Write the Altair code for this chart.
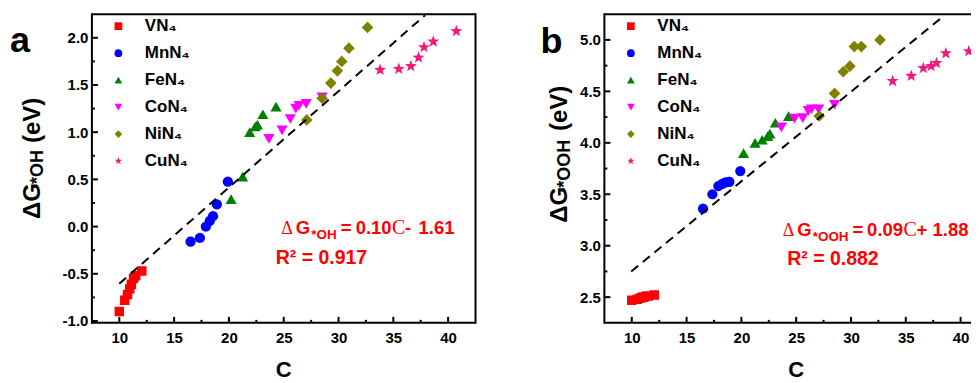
import altair as alt
import pandas as pd

# ---------------- data ----------------
series = ["VN₄", "MnN₄", "FeN₄", "CoN₄", "NiN₄", "CuN₄"]
colors = ["#FF0000", "#0000FF", "#008000", "#FF00FF", "#808000", "#F0197D"]
STAR = ("M0,-1L0.24,-0.33L0.951,-0.309L0.388,0.126L0.588,0.809L0,0.41"
        "L-0.588,0.809L-0.388,0.126L-0.951,-0.309L-0.24,-0.33Z")
shapes = ["square", "circle", "triangle-up", "triangle-down", "diamond", STAR]
sizes = [90, 105, 125, 125, 135, 160]

# descriptor C (x) for each catalyst family (same in both panels)
c_vn = [10.0, 10.5, 10.75, 10.95, 11.1, 11.3, 11.5, 12.05]
c_mn = [16.5, 17.35, 17.9, 18.25, 18.55, 18.9, 19.9]
c_fe = [20.2, 21.25, 21.9, 22.4, 22.6, 23.1, 24.3]
c_co = [23.65, 24.85, 25.6, 26.1, 26.4, 27.05, 28.5]
c_ni = [27.1, 28.5, 29.3, 29.9, 30.3, 30.95, 32.65]
c_cu = [33.8, 35.5, 36.6, 37.3, 37.8, 38.65, 40.75]

# panel a: dG*OH (eV)
oh_vn = [-0.90, -0.78, -0.72, -0.66, -0.61, -0.55, -0.52, -0.47]
oh_mn = [-0.16, -0.12, 0.0, 0.06, 0.11, 0.235, 0.475]
oh_fe = [0.29, 0.53, 1.0, 1.06, 1.08, 1.19, 1.27]
oh_co = [0.93, 1.02, 1.14, 1.25, 1.28, 1.30, 1.37]
oh_ni = [1.13, 1.36, 1.52, 1.65, 1.75, 1.89, 2.11]
oh_cu = [1.66, 1.67, 1.70, 1.79, 1.90, 1.96, 2.07]

# panel b: dG*OOH (eV)
ooh_vn = [2.47, 2.48, 2.49, 2.50, 2.50, 2.51, 2.51, 2.52]
ooh_mn = [3.36, 3.50, 3.58, 3.60, 3.615, 3.62, 3.725]
ooh_fe = [3.90, 4.00, 4.03, 4.065, 4.09, 4.195, 4.26]
ooh_co = [4.15, 4.235, 4.24, 4.31, 4.325, 4.325, 4.37]
ooh_ni = [4.26, 4.48, 4.69, 4.745, 4.935, 4.935, 5.0]
ooh_cu = [4.60, 4.65, 4.725, 4.745, 4.775, 4.87, 4.89]

# dashed fit lines (end points)
fit_oh_c = [10.0, 37.9]
fit_oh = [-0.605, 2.24]
fit_ooh_c = [9.95, 38.2]
fit_ooh = [2.75, 5.21]

# tick values
x_major = [10, 15, 20, 25, 30, 35, 40]
x_minor = [12.5, 17.5, 22.5, 27.5, 32.5, 37.5]
oh_major = [-1.0, -0.5, 0.0, 0.5, 1.0, 1.5, 2.0]
oh_minor = [-0.75, -0.25, 0.25, 0.75, 1.25, 1.75]
ooh_major = [2.5, 3.0, 3.5, 4.0, 4.5, 5.0]
ooh_minor = [2.75, 3.25, 3.75, 4.25, 4.75]

# ---------------- build ----------------
FONT = "Liberation Sans, Arial, DejaVu Sans, sans-serif"
SERIF = "Liberation Serif, Times New Roman, serif"
H = 309
W1 = 384
W2 = 367          # right panel is cut by the window edge, as in the reference
XDOM1 = [7.5, 42.5]
XDOM2 = [7.5, 7.5 + 35.0 * W2 / W1]

c_all = [c_vn, c_mn, c_fe, c_co, c_ni, c_cu]
ONE = pd.DataFrame({"k": [0]})


def txt(s, x, y, size, weight="bold", font=FONT, color="black", angle=0,
        align="left", clip=False):
    return alt.Chart(pd.DataFrame({"t": [s]})).mark_text(
        align=align, baseline="alphabetic", fontSize=size, fontWeight=weight,
        font=font, color=color, angle=angle, clip=clip
    ).encode(x=alt.value(x), y=alt.value(y), text="t:N")


def panel(values, ydom, ymaj, ymin, fitc, fitv, width, xdom, right_frame,
          ann, ytitle, label):
    xs = alt.Scale(domain=xdom, nice=False, zero=False)
    ys = alt.Scale(domain=ydom, nice=False, zero=False)
    cs = alt.Scale(domain=series, range=colors)
    ss = alt.Scale(domain=series, range=shapes)
    leg = alt.Legend(title=None, orient="none", legendX=18, legendY=3.5,
                     symbolSize=60, labelFont=FONT, labelFontSize=17,
                     labelFontWeight="bold", labelColor="black", rowPadding=9,
                     labelOffset=18, padding=0)
    xaxis = alt.Axis(values=x_major, format="d", ticks=False, domain=False,
                     grid=False, labelFont=FONT, labelFontSize=15,
                     labelFontWeight="bold", labelColor="black", labelPadding=8,
                     title=None)
    yaxis = alt.Axis(values=ymaj, ticks=False, domain=False, grid=False,
                     labelExpr="datum.value < 0 ? '-' + format(-datum.value, '.1f') : format(datum.value, '.1f')",
                     labelFont=FONT, labelFontSize=15, labelFontWeight="bold",
                     labelColor="black", labelPadding=4, title=None)

    pts_layers = []
    for i, (name, cx, vy) in enumerate(zip(series, c_all, values)):
        df = pd.DataFrame({"S": [name] * len(cx), "C": cx, "G": vy})
        first = i == 0
        pts_layers.append(
            alt.Chart(df).mark_point(filled=True, opacity=1, size=sizes[i], clip=True).encode(
                x=alt.X("C:Q", scale=xs, axis=xaxis),
                y=alt.Y("G:Q", scale=ys, axis=yaxis),
                color=alt.Color("S:N", scale=cs, legend=leg if first else None),
                shape=alt.Shape("S:N", scale=ss, legend=leg if first else None),
            )
        )

    line = alt.Chart(pd.DataFrame({"C": fitc, "G": fitv})).mark_line(
        color="black", strokeWidth=2, strokeDash=[9, 6], clip=True
    ).encode(x=alt.X("C:Q", scale=xs, axis=xaxis), y=alt.Y("G:Q", scale=ys, axis=yaxis))

    def xt(vals, ln):
        return alt.Chart(pd.DataFrame({"C": vals})).mark_rule(color="black", strokeWidth=2).encode(
            x=alt.X("C:Q", scale=xs, axis=xaxis), y=alt.value(H), y2=alt.value(H - ln))

    def yt(vals, ln):
        return alt.Chart(pd.DataFrame({"G": vals})).mark_rule(color="black", strokeWidth=2).encode(
            y=alt.Y("G:Q", scale=ys, axis=yaxis), x=alt.value(0), x2=alt.value(ln))

    frames = [
        alt.Chart(ONE).mark_rule(color="black", strokeWidth=2).encode(
            x=alt.value(0), y=alt.value(-1), y2=alt.value(H + 1)),
        alt.Chart(ONE).mark_rule(color="black", strokeWidth=2).encode(
            x=alt.value(0), x2=alt.value(width), y=alt.value(0)),
        alt.Chart(ONE).mark_rule(color="black", strokeWidth=2).encode(
            x=alt.value(0), x2=alt.value(width), y=alt.value(H)),
    ]
    if right_frame:
        frames.append(alt.Chart(ONE).mark_rule(color="black", strokeWidth=2).encode(
            x=alt.value(width), y=alt.value(-1), y2=alt.value(H + 1)))

    red = "#FF0000"
    (base, rbase, dx, gx, sx, sub, eqx, numx, num, cx, sgx, sg, cstx, cst, rx, r2) = ann
    texts = [
        txt("Δ", dx, base, 18, weight="normal", font=SERIF, color=red, clip=True),
        txt("G", gx, base, 18.5, color=red, clip=True),
        txt(sub, sx, base + 5, 13.5, color=red, clip=True),
        txt("=", eqx, base, 18.5, color=red, clip=True),
        txt(num, numx, base, 18.5, color=red, clip=True),
        txt("C", cx, base, 20, weight="normal", font=SERIF, color=red, clip=True),
        txt(sg, sgx, base, 18.5, color=red, clip=True),
        txt(cst, cstx, base, 18.5, color=red, clip=True),
        txt(r2, rx, rbase, 19.5, color=red, clip=True),
    ]
    (tx, ty1, tsub, ty2, ty3) = ytitle
    texts += [
        txt("ΔG", tx, ty1, 24, angle=270),
        txt(tsub, tx + 3, ty2, 18, angle=270),
        txt("(eV)", tx, ty3, 24, angle=270),
    ]
    (lab, lx, ly) = label
    texts.append(txt(lab, lx, ly, 36))
    texts.append(txt("C", 192, H + 54, 22, align="center"))

    layers = pts_layers + [line, xt(x_major, 6), xt(x_minor, 3), yt(ymaj, 6), yt(ymin, 3)] + frames + texts
    return alt.layer(*layers).properties(width=width, height=H)


left = panel(
    [oh_vn, oh_mn, oh_fe, oh_co, oh_ni, oh_cu], [-1.02, 2.25], oh_major, oh_minor,
    fit_oh_c, fit_oh, W1, XDOM1, True,
    (220, 250, 189.5, 204, 219.5, "*OH", 249, 264, "0.10", 300.5, 313.5, "-", 327, "1.61",
     184, "R² = 0.917"),
    (-52, 205, "*OH", 170, 129),
    ("a", -82, 38),
)
right = panel(
    [ooh_vn, ooh_mn, ooh_fe, ooh_co, ooh_ni, ooh_cu], [2.25, 5.25], ooh_major, ooh_minor,
    fit_ooh_c, fit_ooh, W2, XDOM2, False,
    (222, 251, 178.5, 193, 208.5, "*OOH", 248.5, 263, "0.09", 299.5, 312.5, "+", 328.5, "1.88",
     183, "R² = 0.882"),
    (-37, 208.7, "*OOH", 173.7, 117),
    ("b", -64, 39),
)

chart = alt.hconcat(left, right, spacing=64).resolve_scale(
    x="independent", y="independent", color="independent", shape="independent"
).properties(
    padding={"left": 2, "top": 4, "right": 0, "bottom": 0}
).configure_view(strokeWidth=0)

chart.save("out.html", embed_options={"renderer": "svg", "actions": False})
